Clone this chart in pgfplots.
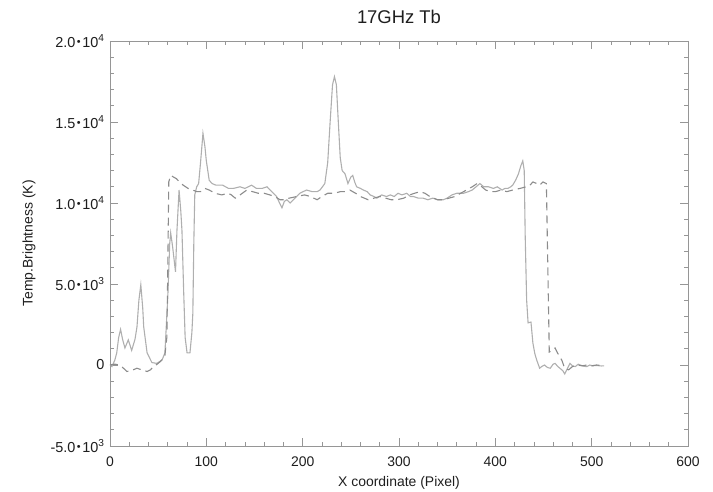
\documentclass[border=0pt]{standalone}
\usepackage{fontspec}
\setmainfont{Liberation Sans}
\usepackage{pgfplots}
\pgfplotsset{compat=1.18}
\definecolor{axgray}{RGB}{150,150,150}
\definecolor{solidgray}{RGB}{175,175,175}
\definecolor{dashgray}{RGB}{140,140,140}
\definecolor{txt}{RGB}{30,30,30}
\newcommand{\sci}[2]{#1\hspace{1.5bp}\raisebox{0.25ex}{\scalebox{0.75}{•}}\hspace{1.5bp}10\textsuperscript{#2}}
\begin{document}
\begin{tikzpicture}
\path[use as bounding box] (-110bp,-46bp) rectangle (603bp,446bp);
\begin{axis}[
  at={(0,0)}, anchor=south west,
  width=578bp, height=405bp, scale only axis,
  xmin=0, xmax=600, ymin=-5000, ymax=20000,
  scaled x ticks=false, scaled y ticks=false,
  xtick={0,100,...,600},
  xticklabels={0,100,200,300,400,500,600},
  ytick={-5000,0,5000,10000,15000,20000},
  yticklabels={-\sci{5.0}{3},0,\sci{5.0}{3},\sci{1.0}{4},\sci{1.5}{4},\sci{2.0}{4}},
  minor x tick num=4, minor y tick num=4,
  tick align=inside,
  major tick length=8bp, minor tick length=4bp,
  axis line style={axgray, line width=0.8bp},
  every tick/.style={axgray, line width=0.7bp},
  /pgf/number format/assume math mode=true,
  tick label style={font=\fontsize{14}{16}\selectfont, text=txt},
  xticklabel style={yshift=-7bp},
  yticklabel style={xshift=-2bp, font=\fontsize{14.5}{16}\selectfont},
  title={17GHz Tb},
  title style={at={(axis description cs:0.5,1)}, anchor=center, yshift=18bp, font=\fontsize{18.5}{20}\selectfont, text=txt},
  xlabel={X coordinate (Pixel)},
  xlabel style={at={(axis description cs:0.5,0)}, anchor=center, yshift=-37bp, font=\fontsize{14}{16}\selectfont, text=txt},
  ylabel={Temp.Brightness (K)},
  every axis y label/.style={at={(axis description cs:-0.1401,0.5)}, rotate=90, anchor=center, font=\fontsize{14}{16}\selectfont, text=txt},
  clip=true,
]
\addplot[solidgray, line width=1.1bp] coordinates {
(0,0) (2,-100) (5,300) (7,750) (9,1700) (11,2200) (13,1600) (15.5,1050) (19,1550) (22.5,900)
(26,1600) (28,2350) (30,4000) (32,4950) (34,3500) (35,2350) (38.5,750) (43.5,150) (48.5,100) (54,300)
(57,750) (60,4200) (62,7500) (63,8150) (65,7300) (68,5750) (69.5,8300) (71.7,10800) (73.5,9500) (74.7,8300)
(76.5,4500) (78,1700) (80,750) (83,750) (85,2000) (86,3200) (87,7500) (88,10500) (90,11000) (92,11200)
(94,12500) (96.5,14300) (98.5,13500) (100,12600) (103,11400) (106,11200) (110,11100) (117,11100) (123,10900) (128,10900)
(135,11000) (140,10900) (147,11100) (152,10900) (158,10900) (163,11000) (168,10700) (173,10400) (176,10000) (178.5,9700)
(181,10100) (183.7,10200) (187,10000) (192,10300) (197,10600) (204,10800) (210,10700) (215,10700) (218,10800) (223,11200)
(226,12500) (228.5,15000) (231,17300) (233,17800) (235,17300) (237,15000) (239,12800) (241,12000) (244,11800) (247,11200)
(250,11600) (252,11700) (254,11300) (256,11000) (260,10900) (263,10800) (267,10700) (270,10500) (274,10400) (277,10300)
(282,10500) (287,10400) (291,10500) (295,10400) (299,10600) (303,10500) (308,10600) (312,10400) (315,10400) (320,10300)
(325,10300) (330,10200) (335,10300) (340,10200) (346,10200) (350,10300) (355,10500) (360,10600) (367,10600) (372,10700)
(376,10800) (380,11000) (384,11200) (388,11000) (393,11000) (398,10900) (402,11000) (407,10800) (410,10900) (413,10900)
(416,11000) (418,11100) (421,11400) (424,11800) (426.5,12300) (428.5,12600) (430,12000) (431,8000) (432.5,4000) (434,2600)
(437,2650) (439,1350) (441,700) (443,300) (446,-200) (448,-100) (451,0) (454,-150) (457,-200) (460,50)
(462,100) (465,-100) (467,-200) (470,-350) (472,-550) (475,-200) (477.5,100) (480,-50) (483,-100) (486,50)
(488,0) (492,-80) (495,-100) (498,0) (501,-50) (505,-30) (510,-60) (513,-50)
};
\addplot[dashgray, line width=1.1bp, dash pattern=on 8bp off 5bp] coordinates {
(0,0) (5,50) (10,0) (14,-200) (17.6,-400) (22,-350) (28,-200) (33,-300) (38.5,-400) (42,-300)
(45,-100) (49,50) (52,200) (55,400) (57,600) (59,1700) (60,6000) (61,11300) (63,11700) (66,11600)
(69,11500) (72,11300) (76,11100) (81,10900) (86,10800) (90,10700) (94,10700) (98.6,10900) (103,10800) (109,10600)
(116,10500) (122.5,10600) (126,10500) (130,10300) (135,10500) (142,10800) (148,10700) (154,10600) (160,10600) (166,10500)
(171,10400) (176.5,10200) (181,10200) (186,10300) (194,10400) (202,10500) (208,10400) (215,10200) (220,10400) (226,10600)
(233,10600) (239,10700) (244,10700) (249,10800) (255,10600) (260,10400) (264,10300) (268,10200) (274,10300) (280,10400)
(286,10300) (292,10200) (298,10200) (305,10300) (311,10500) (316,10600) (322,10700) (327,10600) (332,10400) (336,10300)
(340,10200) (346,10200) (352,10300) (358,10400) (364,10600) (370,10800) (376,11000) (381,11200) (386,11000) (390,10800)
(395,10700) (400,10700) (406,10800) (412,10700) (418,10800) (425.6,10900) (432,11000) (436,11100) (439,11300) (443,11200)
(446,11100) (449.5,11300) (453,11200) (454.5,6000) (456,800) (459,900) (462,1050) (465,700) (469,300) (472,-200)
(476,-300) (480,-100) (485,0) (490,-50) (495,0) (500,-50) (505,0) (510,-30)
};
\end{axis}
\end{tikzpicture}
\end{document}
